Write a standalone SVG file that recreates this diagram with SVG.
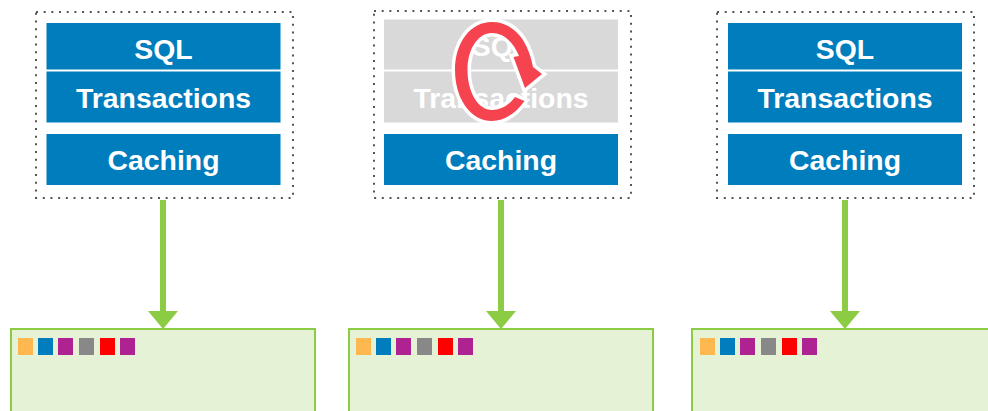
<svg xmlns="http://www.w3.org/2000/svg" width="988" height="411" viewBox="0 0 988 411">
<style>
.frame{fill:#fff;stroke:#555;stroke-width:2;stroke-dasharray:2 5.68}
.blue{fill:#007DBD}
.grey{fill:#D9D9D9}
.t{font-family:"Liberation Sans",Arial,sans-serif;font-weight:700;font-size:28.400px;fill:#fff;text-anchor:middle}
.store{fill:#E5F2D5;stroke:#8CCB44;stroke-width:2}
.line{stroke:#8CCB44;stroke-width:6;fill:none}
.head{fill:#8CCB44}
.o{fill:#FFB84F}.b{fill:#007DBD}.p{fill:#AE2391}.g{fill:#888888}.r{fill:#FF0000}
</style>
<defs>
<g id="swatches">
<rect class="o" x="0" y="0" width="15" height="17"/>
<rect class="b" x="20" y="0" width="15" height="17"/>
<rect class="p" x="40" y="0" width="15" height="17"/>
<rect class="g" x="61" y="0" width="15" height="17"/>
<rect class="r" x="82" y="0" width="15" height="17"/>
<rect class="p" x="102" y="0" width="15" height="17"/>
</g>
</defs>
<g id="connectors">
<g><path class="line" d="M163 200V312"/><path class="head" d="M148 311H178L163 329Z"/></g>
<g><path class="line" d="M501 200V312"/><path class="head" d="M486 311H516L501 329Z"/></g>
<g><path class="line" d="M845 200V312"/><path class="head" d="M830 311H860L845 329Z"/></g>
</g>
<g id="node-left">
<rect class="frame" x="36" y="12" width="257" height="186"/>
<rect class="blue" x="46.500" y="23" width="234" height="46.500"/>
<rect class="blue" x="46.500" y="71.500" width="234" height="51"/>
<rect class="blue" x="46.500" y="134" width="234" height="51"/>
<text class="t" x="163.500" y="59">SQL</text>
<text class="t" x="163.500" y="108">Transactions</text>
<text class="t" x="163.500" y="170">Caching</text>
</g>
<g id="node-middle">
<rect class="frame" x="374" y="11" width="257" height="187"/>
<rect class="grey" x="384" y="19.500" width="234" height="50"/>
<rect class="grey" x="384" y="71.500" width="234" height="51"/>
<rect class="blue" x="384" y="134" width="234" height="51"/>
<text class="t" x="501" y="56">SQL</text>
<text class="t" x="501" y="108">Transactions</text>
<text class="t" x="501" y="170">Caching</text>
<path d="M524.500 101C515 114 504 121 492 121C470 121 455 98 455 70C455 43 470 22 492 22C505 22 516 29 523 40C528 48 531 57 533 67L542 74L525 88L513.500 57L519 56C513 41 503 33 492 33C478 33 467.500 49 467.500 70C467.500 92 478 110 492 110C501 110 509 105 515 97Z" fill="#F5434F" stroke="#fff" stroke-width="7" paint-order="stroke" stroke-linejoin="miter"/>
</g>
<g id="node-right">
<rect class="frame" x="717" y="12" width="257" height="186"/>
<rect class="blue" x="728" y="23" width="234" height="46.500"/>
<rect class="blue" x="728" y="71.500" width="234" height="51"/>
<rect class="blue" x="728" y="134" width="234" height="51"/>
<text class="t" x="845" y="59">SQL</text>
<text class="t" x="845" y="108">Transactions</text>
<text class="t" x="845" y="170">Caching</text>
</g>
<g id="store-left">
<rect class="store" x="11" y="329" width="304" height="100"/>
<use href="#swatches" x="18" y="338"/>
</g>
<g id="store-middle">
<rect class="store" x="349" y="329" width="304" height="100"/>
<use href="#swatches" x="356" y="338"/>
</g>
<g id="store-right">
<rect class="store" x="692" y="329" width="304" height="100"/>
<use href="#swatches" x="700" y="338"/>
</g>
</svg>
